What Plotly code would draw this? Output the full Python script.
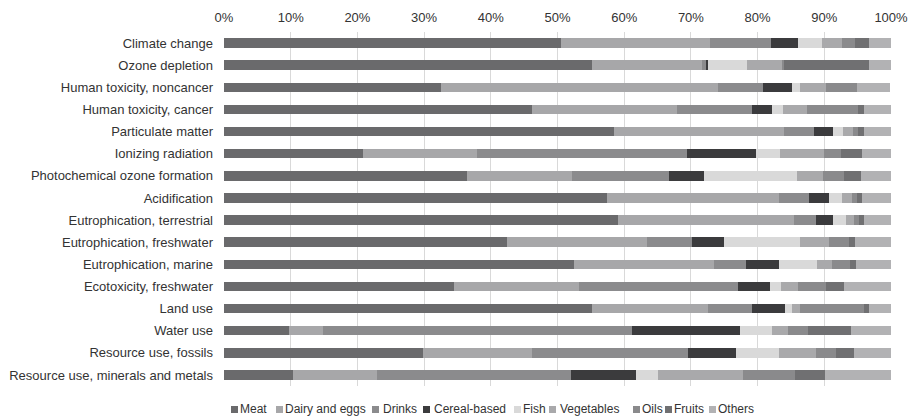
import plotly.graph_objects as go

# Impact categories, listed top to bottom
categories = [
    "Climate change",
    "Ozone depletion",
    "Human toxicity, noncancer",
    "Human toxicity, cancer",
    "Particulate matter",
    "Ionizing radiation",
    "Photochemical ozone formation",
    "Acidification",
    "Eutrophication, terrestrial",
    "Eutrophication, freshwater",
    "Eutrophication, marine",
    "Ecotoxicity, freshwater",
    "Land use",
    "Water use",
    "Resource use, fossils",
    "Resource use, minerals and metals",
]

# Share (%) of each food group in every impact category
meat = [50.5, 55.2, 32.5, 46.2, 58.4, 20.9, 36.5, 57.4, 59.0, 42.4, 52.4, 34.5, 55.2, 9.7, 29.9, 10.4]
dairy_eggs = [22.4, 16.4, 41.6, 21.7, 25.5, 17.1, 15.7, 25.8, 26.4, 21.0, 21.0, 18.7, 17.3, 5.1, 16.3, 12.6]
drinks = [9.1, 0.6, 6.7, 11.2, 4.5, 31.4, 14.5, 4.5, 3.4, 6.8, 4.9, 23.8, 6.6, 46.4, 23.3, 29.0]
cereal_based = [4.1, 0.3, 4.3, 3.0, 2.9, 10.4, 5.3, 3.0, 2.5, 4.8, 4.9, 4.8, 5.0, 16.2, 7.2, 9.8]
fish = [3.5, 5.9, 1.2, 1.7, 1.5, 3.5, 13.9, 1.9, 1.9, 11.3, 5.7, 1.7, 1.0, 4.8, 6.5, 3.2]
vegetables = [3.1, 5.4, 3.9, 3.6, 1.5, 6.7, 3.9, 1.5, 1.2, 4.4, 2.2, 2.5, 1.2, 2.3, 5.5, 12.8]
oils = [1.9, 0.1, 4.7, 7.7, 0.8, 2.5, 3.1, 0.8, 0.8, 3.0, 2.8, 4.2, 9.7, 3.0, 3.0, 7.8]
fruits = [2.1, 12.8, 0.0, 0.9, 0.8, 3.2, 2.6, 0.8, 0.7, 0.9, 0.8, 2.7, 0.7, 6.5, 2.7, 4.5]
others = [3.3, 3.3, 4.9, 4.0, 4.1, 4.3, 4.5, 4.3, 4.1, 5.4, 5.3, 7.1, 3.3, 6.0, 5.6, 9.9]

group_names = ["Meat", "Dairy and eggs", "Drinks", "Cereal-based", "Fish",
               "Vegetables", "Oils", "Fruits", "Others"]
group_values = [meat, dairy_eggs, drinks, cereal_based, fish,
                vegetables, oils, fruits, others]
group_colors = ["#6a6a6c", "#a7a7a9", "#8b8b8d", "#3b3b3d", "#d9d9d9",
                "#a9a9ab", "#8a8a8c", "#707072", "#b2b2b4"]

W, H = 910, 419
ML, MR, MT, MB = 224, 19, 32, 33
FONT = "Liberation Sans, Arial, sans-serif"
TEXT = "#333333"

fig = go.Figure()
for name, vals, col in zip(group_names, group_values, group_colors):
    fig.add_trace(go.Bar(
        y=categories, x=vals, name=name, orientation="h",
        marker=dict(color=col, line=dict(width=0)),
        showlegend=False,
    ))

# Legend row drawn as small swatches + labels beneath the plot
swatch_px = [231, 276, 372, 423, 514, 549, 633, 665, 709]   # swatch left edge
label_px = [239, 284, 382, 433, 522, 559, 641, 673, 717]    # label left edge
plot_w = W - ML - MR
plot_h = H - MT - MB


def px_to_paper_x(px):
    return (px - ML) / plot_w


def px_to_paper_y(py):
    return (H - MB - py) / plot_h


shapes, annotations = [], []
sw = 7
leg_y = 409
for name, col, sx, tx in zip(group_names, group_colors, swatch_px, label_px):
    shapes.append(dict(
        type="rect", xref="paper", yref="paper",
        x0=px_to_paper_x(sx), x1=px_to_paper_x(sx + sw),
        y0=px_to_paper_y(leg_y + 4), y1=px_to_paper_y(leg_y + 4 - sw),
        fillcolor=col, line=dict(width=0),
    ))
    annotations.append(dict(
        text=name, xref="paper", yref="paper",
        x=px_to_paper_x(tx), y=px_to_paper_y(leg_y),
        xanchor="left", yanchor="middle", showarrow=False,
        xshift=-1, font=dict(family=FONT, size=12, color=TEXT),
    ))

fig.update_layout(
    barmode="stack",
    bargap=0.57,
    width=W, height=H,
    margin=dict(l=ML, r=MR, t=MT, b=MB, autoexpand=False),
    paper_bgcolor="white",
    plot_bgcolor="white",
    font=dict(family=FONT, size=13, color=TEXT),
    shapes=shapes,
    annotations=annotations,
    xaxis=dict(
        side="top", range=[0, 100], tickvals=list(range(0, 101, 10)),
        ticktext=[f"{v}%" for v in range(0, 101, 10)],
        showgrid=True, gridcolor="#d9d9d9", gridwidth=1,
        zeroline=False, showline=False, ticks="", automargin=False,
        ticklabelstandoff=6,
        tickfont=dict(family=FONT, size=13, color=TEXT),
        fixedrange=True,
    ),
    yaxis=dict(
        autorange="reversed", showgrid=False, zeroline=False,
        showline=False, ticks="", ticklabelstandoff=10, automargin=False,
        tickfont=dict(family=FONT, size=13, color=TEXT),
        fixedrange=True,
    ),
)

fig.write_html("out.html")
